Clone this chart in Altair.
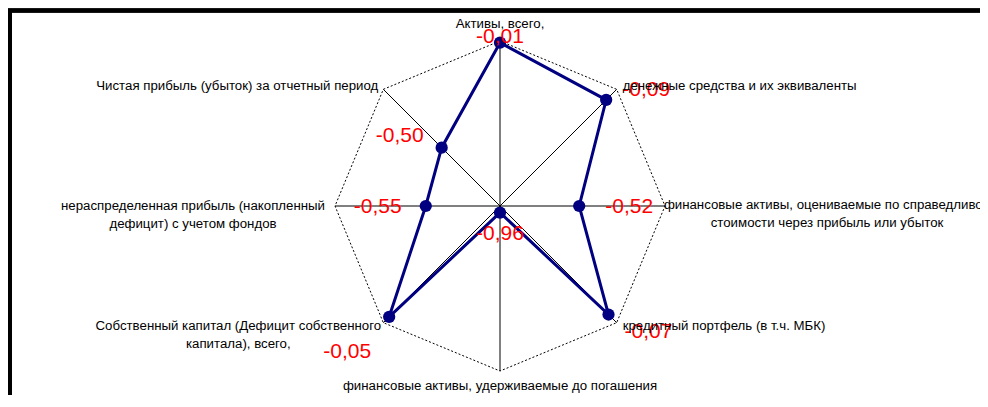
import altair as alt
import pandas as pd

# ---- data ----
categories = [
    "Активы, всего,",
    "денежные средства и их эквиваленты",
    "финансовые активы, оцениваемые по справедливой\nстоимости через прибыль или убыток",
    "кредитный портфель (в т.ч. МБК)",
    "финансовые активы, удерживаемые до погашения",
    "Собственный капитал (Дефицит собственного\nкапитала), всего,",
    "нераспределенная прибыль (накопленный\nдефицит) с учетом фондов",
    "Чистая прибыль (убыток) за отчетный период",
]
values = [-0.01, -0.09, -0.52, -0.07, -0.96, -0.05, -0.55, -0.50]
radial_min, radial_max = -1.0, 0.0

# ---- layout (pixels) ----
W, H = 972, 387
R = 165.0          # outer radius in px
CX, CY = 492, 198  # centre in chart px
xdom = [-CX / R, (W - CX) / R]
ydom = [-(H - CY) / R, CY / R]

# category label placement: (align, dx, dy)
cat_place = [
    ("center", 0, -17),
    ("left", 6, -3),
    ("center", 162, -1),
    ("left", 6, 3),
    ("center", 0, 15),
    ("center", -145, 3),
    ("center", -142, 0),
    ("right", -5, -3),
]
# value label placement (dx, dy) relative to the point
val_place = [(0, -6), (40, -10), (50, 1), (40, 17), (0, 21), (-42, 35), (-48, 1), (-42, -12)]

df = pd.DataFrame({"idx": list(range(len(categories))), "cat": categories, "value": values})
closed = pd.concat([df, df.iloc[[0]].assign(idx=len(categories))], ignore_index=True)

n = len(categories)


def geo(ch):
    return ch.transform_calculate(
        ang=f"PI/2 - datum.idx*2*PI/{n}",
    ).transform_calculate(
        r=f"(datum.value - ({radial_min}))/({radial_max} - ({radial_min}))",
        ox="cos(datum.ang)",
        oy="sin(datum.ang)",
        cx="0",
        cy="0",
    ).transform_calculate(
        px="datum.r*cos(datum.ang)",
        py="datum.r*sin(datum.ang)",
        lab="replace(replace(format(datum.value, '.2f'), '.', ','), '\u2212', '-')",
    )


xs = alt.Scale(domain=xdom, nice=False, zero=False)
ys = alt.Scale(domain=ydom, nice=False, zero=False)
X = lambda f: alt.X(f, type="quantitative", scale=xs, axis=None)
Y = lambda f: alt.Y(f, type="quantitative", scale=ys, axis=None)

octagon = geo(alt.Chart(closed)).mark_line(
    color="black", strokeWidth=1, strokeDash=[2, 2]
).encode(x=X("ox"), y=Y("oy"), order="idx:Q")

spokes = geo(alt.Chart(df)).mark_rule(color="black", strokeWidth=1).encode(
    x=X("cx"), y=Y("cy"), x2="ox:Q", y2="oy:Q"
)

series = geo(alt.Chart(closed)).mark_line(color="#000080", strokeWidth=3).encode(
    x=X("px"), y=Y("py"), order="idx:Q"
)

points = geo(alt.Chart(df)).mark_point(
    filled=True, color="#000080", size=150, opacity=1, shape="circle"
).encode(x=X("px"), y=Y("py"))

frame_top = alt.Chart(df).mark_rule(color="black", strokeWidth=3.5).encode(
    x=alt.value(0), x2=alt.value(W), y=alt.value(2.5)
)
frame_left = alt.Chart(df).mark_rule(color="black", strokeWidth=3.5).encode(
    x=alt.value(1.75), y=alt.value(1), y2=alt.value(H)
)

val_layers = []
for i, (ddx, ddy) in enumerate(val_place):
    val_layers.append(
        geo(alt.Chart(df)).transform_filter(alt.datum.idx == i).mark_text(
            color="#FF0000", font="Liberation Sans", fontSize=21,
            align="center", baseline="middle", dx=ddx, dy=ddy,
        ).encode(x=X("px"), y=Y("py"), text="lab:N")
    )

cat_layers = []
for i, (al, ddx, ddy) in enumerate(cat_place):
    cat_layers.append(
        geo(alt.Chart(df)).transform_filter(alt.datum.idx == i).mark_text(
            color="black", font="Liberation Sans", fontSize=13.25,
            align=al, baseline="middle", dx=ddx, dy=ddy,
            lineBreak="\n", lineHeight=18,
        ).encode(x=X("ox"), y=Y("oy"), text="cat:N")
    )

chart = alt.layer(
    octagon, spokes, frame_top, frame_left, series, points, *val_layers, *cat_layers
).properties(
    width=W, height=H, padding=0, autosize=alt.AutoSizeParams(type="none"),
    background="white",
).configure_view(stroke=None)

chart.save("out.html", embed_options={"renderer": "svg", "actions": False})
